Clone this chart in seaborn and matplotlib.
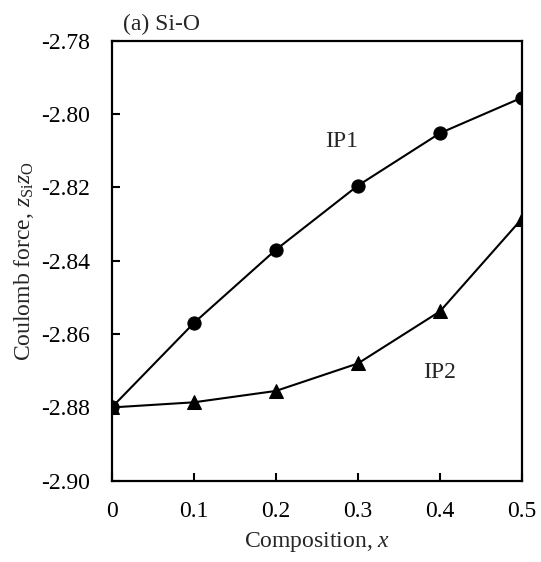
import matplotlib
matplotlib.use("Agg")
import matplotlib.pyplot as plt
import seaborn as sns
import pandas as pd

composition = [0.0, 0.1, 0.2, 0.3, 0.4, 0.5]
ip1_values = [-2.880, -2.857, -2.837, -2.8195, -2.8052, -2.7955]
ip2_values = [-2.880, -2.8786, -2.8755, -2.8680, -2.8538, -2.8285]
x_ticks = [0, 0.1, 0.2, 0.3, 0.4, 0.5]
x_tick_labels = ["0", "0.1", "0.2", "0.3", "0.4", "0.5"]
y_ticks = [-2.90, -2.88, -2.86, -2.84, -2.82, -2.80, -2.78]
y_tick_labels = ["-2.90", "-2.88", "-2.86", "-2.84", "-2.82", "-2.80", "-2.78"]

sns.set_style("ticks")
plt.rcParams["font.family"] = "serif"
plt.rcParams["font.serif"] = ["Liberation Serif", "Times New Roman", "DejaVu Serif"]
plt.rcParams["mathtext.fontset"] = "custom"
plt.rcParams["mathtext.rm"] = "Liberation Serif"
plt.rcParams["mathtext.it"] = "Liberation Serif:italic"

FS = 17

df = pd.DataFrame({
    "x": composition * 2,
    "y": ip1_values + ip2_values,
    "series": ["IP1"] * len(composition) + ["IP2"] * len(composition),
})

fig = plt.figure(figsize=(5.41, 5.62), dpi=100)
ax = fig.add_axes([0.2065, 0.1445, 0.7585, 0.783])

sns.lineplot(data=df, x="x", y="y", hue="series", style="series",
             markers={"IP1": "o", "IP2": "^"}, dashes=False,
             palette={"IP1": "black", "IP2": "black"},
             markersize=9.5, linewidth=1.5, markeredgecolor="black",
             legend=False, ax=ax)

ax.set_xlim(0, 0.5)
ax.set_ylim(-2.90, -2.78)
ax.set_xticks(x_ticks)
ax.set_xticklabels(x_tick_labels)
ax.set_yticks(y_ticks)
ax.set_yticklabels(y_tick_labels)
ax.tick_params(direction="in", length=6, width=1.5, labelsize=FS,
               colors="black")
ax.tick_params(axis="y", pad=15.5)
ax.tick_params(axis="x", pad=14.5)
for s in ax.spines.values():
    s.set_linewidth(1.6)
    s.set_color("black")
    s.set_visible(True)

ax.set_xlabel("Composition, $x$", fontsize=FS, labelpad=6)
ax.set_ylabel("Coulomb force, $z_{\\rm Si}z_{\\rm O}$", fontsize=FS, labelpad=4)

ax.text(0.028, 1.012, "(a) Si-O", transform=ax.transAxes, fontsize=FS,
        ha="left", va="bottom")
ax.text(0.28, -2.8075, "IP1", fontsize=FS, ha="center", va="center")
ax.text(0.40, -2.8705, "IP2", fontsize=FS, ha="center", va="center")

fig.savefig("out.png", dpi=100)
